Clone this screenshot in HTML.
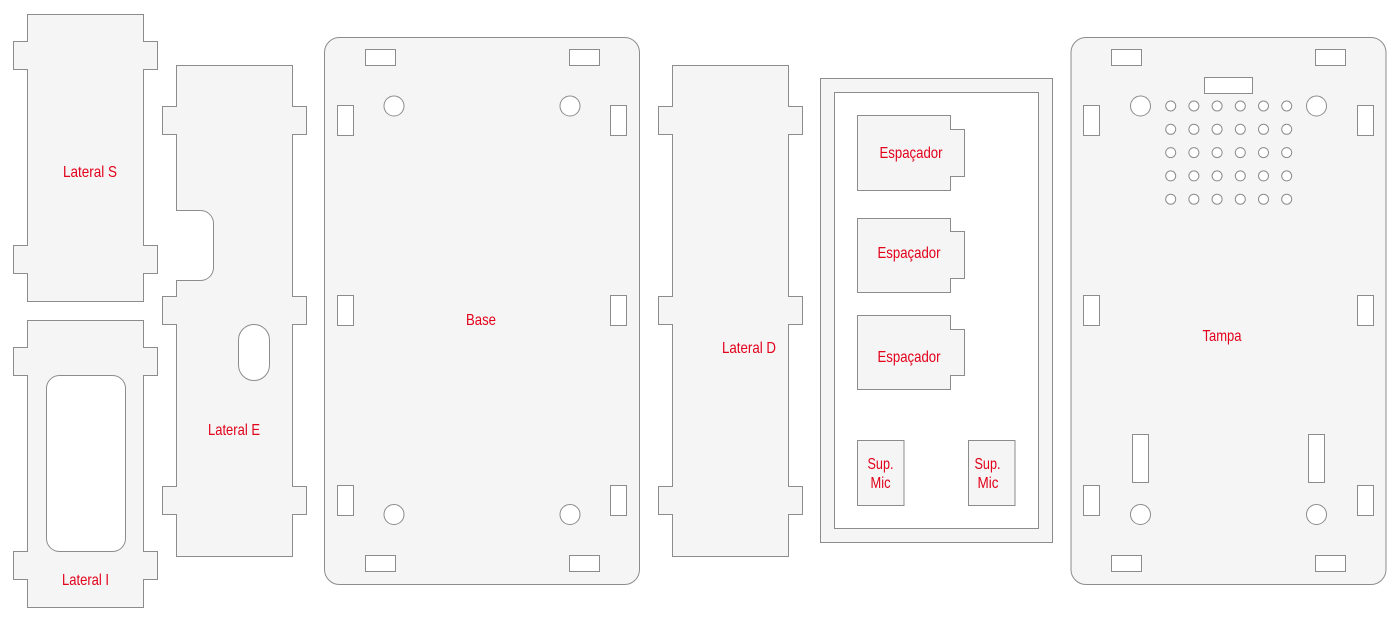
<!DOCTYPE html>
<html>
<head>
<meta charset="utf-8">
<style>
  html, body { margin: 0; padding: 0; background: #ffffff; }
  body { width: 1400px; height: 621px; overflow: hidden; }
  svg { display: block; }
  .p { fill: #f5f5f5; stroke: #8c8c8c; stroke-width: 1; }
  .h { fill: #ffffff; stroke: #8c8c8c; stroke-width: 1; }
  text { font-family: "Liberation Sans", Arial, sans-serif; font-size: 16px; fill: #e2001a; }
</style>
</head>
<body>
<svg width="1400" height="621" viewBox="0 0 1400 621" xmlns="http://www.w3.org/2000/svg">
  <!-- Lateral S -->
  <path class="p" d="M27.5,14.5 H143.5 V41.5 H157.5 V69.5 H143.5 V245.5 H157.5 V273.5 H143.5 V301.5 H27.5 V273.5 H13.5 V245.5 H27.5 V69.5 H13.5 V41.5 H27.5 Z"/>
  <text x="63" y="177" textLength="54" lengthAdjust="spacingAndGlyphs">Lateral S</text>

  <!-- Lateral I -->
  <path class="p" d="M27.5,320.5 H143.5 V347.5 H157.5 V375.5 H143.5 V551.5 H157.5 V579.5 H143.5 V607.5 H27.5 V579.5 H13.5 V551.5 H27.5 V375.5 H13.5 V347.5 H27.5 Z"/>
  <rect class="h" x="46.5" y="375.5" width="79" height="176" rx="13" ry="13"/>
  <text x="62" y="585" textLength="47" lengthAdjust="spacingAndGlyphs">Lateral I</text>

  <!-- Lateral E -->
  <path class="p" d="M176.5,65.5 H292.5 V106.5 H306.5 V134.5 H292.5 V296.5 H306.5 V324.5 H292.5 V486.5 H306.5 V514.5 H292.5 V556.5 H176.5 V514.5 H162.5 V486.5 H176.5 V324.5 H162.5 V296.5 H176.5 V280.5 H200.5 A13,13 0 0 0 213.5,267.5 V223.5 A13,13 0 0 0 200.5,210.5 H176.5 V134.5 H162.5 V106.5 H176.5 Z"/>
  <rect class="h" x="238.5" y="324.5" width="31" height="56" rx="15.5" ry="15.5"/>
  <text x="208" y="435" textLength="52" lengthAdjust="spacingAndGlyphs">Lateral E</text>

  <!-- Base -->
  <rect class="p" x="324.5" y="37.5" width="315" height="547" rx="15" ry="15"/>
  <rect class="h" x="365.5" y="49.5" width="30" height="16"/>
  <rect class="h" x="569.5" y="49.5" width="30" height="16"/>
  <rect class="h" x="365.5" y="555.5" width="30" height="16"/>
  <rect class="h" x="569.5" y="555.5" width="30" height="16"/>
  <rect class="h" x="337.5" y="105.5" width="16" height="30"/>
  <rect class="h" x="610.5" y="105.5" width="16" height="30"/>
  <rect class="h" x="337.5" y="295.5" width="16" height="30"/>
  <rect class="h" x="610.5" y="295.5" width="16" height="30"/>
  <rect class="h" x="337.5" y="485.5" width="16" height="30"/>
  <rect class="h" x="610.5" y="485.5" width="16" height="30"/>
  <circle class="h" cx="394" cy="106" r="10"/>
  <circle class="h" cx="570" cy="106" r="10"/>
  <circle class="h" cx="394" cy="514.5" r="10"/>
  <circle class="h" cx="570" cy="514.5" r="10"/>
  <text x="466" y="325" textLength="30" lengthAdjust="spacingAndGlyphs">Base</text>

  <!-- Lateral D -->
  <path class="p" d="M672.5,65.5 H788.5 V106.5 H802.5 V134.5 H788.5 V296.5 H802.5 V324.5 H788.5 V486.5 H802.5 V514.5 H788.5 V556.5 H672.5 V514.5 H658.5 V486.5 H672.5 V324.5 H658.5 V296.5 H672.5 V134.5 H658.5 V106.5 H672.5 Z"/>
  <text x="722" y="353" textLength="54" lengthAdjust="spacingAndGlyphs">Lateral D</text>

  <!-- Frame -->
  <rect class="p" x="820.5" y="78.5" width="232" height="464"/>
  <rect class="h" x="834.5" y="92.5" width="204" height="436"/>

  <!-- Espaçadores -->
  <path class="p" d="M857.5,115.5 H950.5 V129.5 H964.5 V176.5 H950.5 V190.5 H857.5 Z"/>
  <text x="879.5" y="158" textLength="63" lengthAdjust="spacingAndGlyphs">Espaçador</text>
  <path class="p" d="M857.5,218.5 H950.5 V231.5 H964.5 V278.5 H950.5 V292.5 H857.5 Z"/>
  <text x="877.5" y="258" textLength="63" lengthAdjust="spacingAndGlyphs">Espaçador</text>
  <path class="p" d="M857.5,315.5 H950.5 V329.5 H964.5 V375.5 H950.5 V389.5 H857.5 Z"/>
  <text x="877.5" y="362" textLength="63" lengthAdjust="spacingAndGlyphs">Espaçador</text>

  <!-- Sup. Mic -->
  <rect class="p" x="857.5" y="440.5" width="46.5" height="65"/>
  <text x="867.5" y="469" textLength="26" lengthAdjust="spacingAndGlyphs">Sup.</text>
  <text x="870.5" y="488" textLength="20" lengthAdjust="spacingAndGlyphs">Mic</text>
  <rect class="p" x="968.5" y="440.5" width="46.5" height="65"/>
  <text x="974.5" y="469" textLength="26" lengthAdjust="spacingAndGlyphs">Sup.</text>
  <text x="977.5" y="488" textLength="21" lengthAdjust="spacingAndGlyphs">Mic</text>

  <!-- Tampa -->
  <rect class="p" x="1071" y="37.5" width="315" height="547" rx="15" ry="15"/>
  <rect class="h" x="1111.5" y="49.5" width="30" height="16"/>
  <rect class="h" x="1315.5" y="49.5" width="30" height="16"/>
  <rect class="h" x="1204.5" y="77.5" width="48" height="16"/>
  <rect class="h" x="1111.5" y="555.5" width="30" height="16"/>
  <rect class="h" x="1315.5" y="555.5" width="30" height="16"/>
  <rect class="h" x="1083.5" y="105.5" width="16" height="30"/>
  <rect class="h" x="1357.5" y="105.5" width="16" height="30"/>
  <rect class="h" x="1083.5" y="295.5" width="16" height="30"/>
  <rect class="h" x="1357.5" y="295.5" width="16" height="30"/>
  <rect class="h" x="1083.5" y="485.5" width="16" height="30"/>
  <rect class="h" x="1357.5" y="485.5" width="16" height="30"/>
  <rect class="h" x="1132.5" y="434.5" width="16" height="48"/>
  <rect class="h" x="1308.5" y="434.5" width="16" height="48"/>
  <circle class="h" cx="1140.5" cy="106" r="10"/>
  <circle class="h" cx="1316.5" cy="106" r="10"/>
  <circle class="h" cx="1140.5" cy="514.5" r="10"/>
  <circle class="h" cx="1316.5" cy="514.5" r="10"/>
  <!-- hole grid 6x5 -->
  <g>
    <circle class="h" cx="1170.7" cy="106" r="5"/><circle class="h" cx="1193.9" cy="106" r="5"/><circle class="h" cx="1217.1" cy="106" r="5"/><circle class="h" cx="1240.3" cy="106" r="5"/><circle class="h" cx="1263.5" cy="106" r="5"/><circle class="h" cx="1286.7" cy="106" r="5"/>
    <circle class="h" cx="1170.7" cy="129.3" r="5"/><circle class="h" cx="1193.9" cy="129.3" r="5"/><circle class="h" cx="1217.1" cy="129.3" r="5"/><circle class="h" cx="1240.3" cy="129.3" r="5"/><circle class="h" cx="1263.5" cy="129.3" r="5"/><circle class="h" cx="1286.7" cy="129.3" r="5"/>
    <circle class="h" cx="1170.7" cy="152.6" r="5"/><circle class="h" cx="1193.9" cy="152.6" r="5"/><circle class="h" cx="1217.1" cy="152.6" r="5"/><circle class="h" cx="1240.3" cy="152.6" r="5"/><circle class="h" cx="1263.5" cy="152.6" r="5"/><circle class="h" cx="1286.7" cy="152.6" r="5"/>
    <circle class="h" cx="1170.7" cy="175.9" r="5"/><circle class="h" cx="1193.9" cy="175.9" r="5"/><circle class="h" cx="1217.1" cy="175.9" r="5"/><circle class="h" cx="1240.3" cy="175.9" r="5"/><circle class="h" cx="1263.5" cy="175.9" r="5"/><circle class="h" cx="1286.7" cy="175.9" r="5"/>
    <circle class="h" cx="1170.7" cy="199.2" r="5"/><circle class="h" cx="1193.9" cy="199.2" r="5"/><circle class="h" cx="1217.1" cy="199.2" r="5"/><circle class="h" cx="1240.3" cy="199.2" r="5"/><circle class="h" cx="1263.5" cy="199.2" r="5"/><circle class="h" cx="1286.7" cy="199.2" r="5"/>
  </g>
  <text x="1202.5" y="341" textLength="39" lengthAdjust="spacingAndGlyphs">Tampa</text>
</svg>
</body>
</html>
